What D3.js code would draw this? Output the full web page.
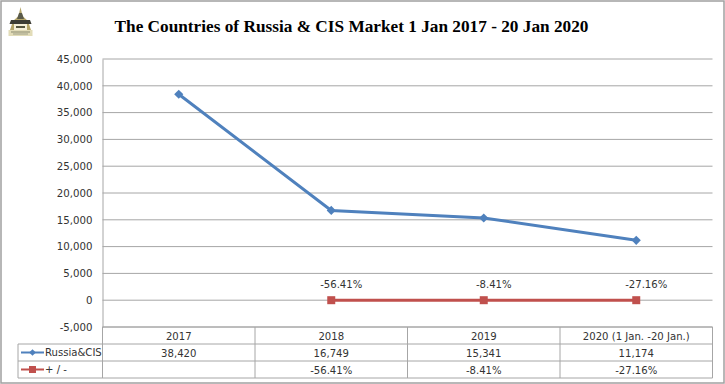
<!DOCTYPE html>
<html>
<head>
<meta charset="utf-8">
<script src="https://cdnjs.cloudflare.com/ajax/libs/d3/7.8.5/d3.min.js"></script>
<style>
html, body { margin: 0; padding: 0; background: #fff; }
svg { display: block; }
text { font-family: "DejaVu Sans", sans-serif; fill: #333; }
</style>
</head>
<body>
<div id="chart"></div>
<script>
var titleText = "The Countries of Russia & CIS Market 1 Jan 2017 - 20 Jan 2020";
var categories = ["2017", "2018", "2019", "2020 (1 Jan. -20 Jan.)"];
var russiaValues = [38420, 16749, 15341, 11174];
var changeValues = [null, 0, 0, 0];
var changeLabels = ["", "-56.41%", "-8.41%", "-27.16%"];
var russiaLabels = ["38,420", "16,749", "15,341", "11,174"];
var yTicks = [-5000, 0, 5000, 10000, 15000, 20000, 25000, 30000, 35000, 40000, 45000];
var seriesNames = ["Russia&CIS", "+ / -"];

var w = 725, h = 384;
var left = 102.5, right = 712.5, top_ = 59, bottom = 327;
var rowY = [327, 344, 361, 378];
var legendLeft = 18;
var blue = "#4f81bd", red = "#c0504d", grid = "#a6a6a6";

var svg = d3.select("#chart").append("svg").attr("width", w).attr("height", h);

svg.append("rect").attr("x", 1).attr("y", 1).attr("width", w - 2).attr("height", h - 2)
	.attr("fill", "#fff").attr("stroke", "#a0a0a0").attr("stroke-width", 1.5);

var x = d3.scaleBand().domain(categories).range([left, right]);
var y = d3.scaleLinear().domain([-5000, 45000]).range([bottom, top_]);
var cx = function(d) { return x(d) + x.bandwidth() / 2; };

svg.append("text").attr("x", 351.5).attr("y", 32).attr("text-anchor", "middle")
	.style("font-family", "'Liberation Serif', serif").style("font-weight", "bold")
	.style("font-size", "17.25px").style("fill", "#000").text(titleText);

// logo, small temple mark
var logo = svg.append("g").attr("transform", "translate(8,7)");
logo.append("path").attr("d", "M12.5,0 L14.5,9 L20,14 L23,23 L2,23 L5,14 L10.5,9 Z").attr("fill", "#b5a66a");
logo.append("path").attr("d", "M11,6 L14,6 L16,12 L9,12 Z").attr("fill", "#5a5a4a");
logo.append("path").attr("d", "M3,13 L22,13 L23.5,17 L1.5,17 Z").attr("fill", "#3c3c34");
logo.append("rect").attr("x", 6).attr("y", 17).attr("width", 13).attr("height", 6).attr("fill", "#f4efd8");
logo.append("rect").attr("x", 8).attr("y", 19).attr("width", 9).attr("height", 2).attr("fill", "#55553f");
logo.append("rect").attr("x", 0.5).attr("y", 23).attr("width", 24).attr("height", 6).attr("fill", "#e2dcb8");
logo.append("rect").attr("x", 3).attr("y", 24.5).attr("width", 19).attr("height", 1).attr("fill", "#8a8a70");
logo.append("rect").attr("x", 5).attr("y", 26.5).attr("width", 15).attr("height", 1).attr("fill", "#a0a088");

// grid and y axis
svg.append("g").selectAll("line").data(yTicks).enter().append("line")
	.attr("x1", left).attr("x2", right)
	.attr("y1", function(d) { return y(d); }).attr("y2", function(d) { return y(d); })
	.attr("stroke", grid).attr("stroke-width", 1);

var yAxis = d3.axisLeft(y).tickValues(yTicks).tickSize(0).tickPadding(10)
	.tickFormat(function(d) { return d3.format(",")(d).replace("\u2212", "-"); });
var yG = svg.append("g").attr("transform", "translate(" + left + ",0)").call(yAxis);
yG.select(".domain").attr("stroke", grid);
yG.selectAll("text").style("font-size", "10.2px").style("fill", "#333");

// data table under the plot
var table = svg.append("g").attr("stroke", grid).attr("stroke-width", 1);
rowY.forEach(function(ry, i) {
	table.append("line").attr("x1", i == 0 ? left : legendLeft).attr("x2", right).attr("y1", ry).attr("y2", ry);
});
table.append("line").attr("x1", legendLeft).attr("x2", legendLeft).attr("y1", rowY[1]).attr("y2", rowY[3]);
categories.forEach(function(c) {
	table.append("line").attr("x1", x(c)).attr("x2", x(c)).attr("y1", rowY[0]).attr("y2", rowY[3]);
});
table.append("line").attr("x1", right).attr("x2", right).attr("y1", rowY[0]).attr("y2", rowY[3]);

function cellRow(labels, ry) {
	svg.append("g").selectAll("text").data(labels).enter().append("text")
		.attr("x", function(d, i) { return cx(categories[i]); })
		.attr("y", ry + 12.5).attr("text-anchor", "middle")
		.style("font-size", "10.1px").text(function(d) { return d; });
}
cellRow(categories, rowY[0]);
cellRow(russiaLabels, rowY[1]);
cellRow(changeLabels, rowY[2]);

// series
var line = d3.line()
	.x(function(d) { return cx(d.cat); })
	.y(function(d) { return y(d.value); });

function zipSeries(values) {
	return values.map(function(v, i) { return { cat: categories[i], value: v }; })
		.filter(function(d) { return d.value != null; });
}

var blueData = zipSeries(russiaValues);
var redData = zipSeries(changeValues);
var squareMark = d3.symbol().type(d3.symbolSquare);

svg.append("path").attr("d", line(blueData)).attr("fill", "none").attr("stroke", blue).attr("stroke-width", 3);
svg.append("g").selectAll("path").data(blueData).enter().append("path")
	.attr("d", squareMark.size(42)()).attr("fill", blue)
	.attr("transform", function(d) { return "translate(" + cx(d.cat) + "," + y(d.value) + ") rotate(45)"; });

svg.append("path").attr("d", line(redData)).attr("fill", "none").attr("stroke", red).attr("stroke-width", 3);
svg.append("g").selectAll("rect").data(redData).enter().append("rect")
	.attr("x", function(d) { return cx(d.cat) - 4; }).attr("y", function(d) { return y(d.value) - 4; })
	.attr("width", 8).attr("height", 8).attr("fill", red);

svg.append("g").selectAll("text").data(redData).enter().append("text")
	.attr("x", function(d) { return cx(d.cat) + 10; }).attr("y", function(d) { return y(d.value) - 12; })
	.attr("text-anchor", "middle").style("font-size", "10.1px")
	.text(function(d) { return changeLabels[categories.indexOf(d.cat)]; });

// legend keys in the table
var keyY = [rowY[1] + 8.5, rowY[2] + 8.5];
svg.append("line").attr("x1", 21).attr("x2", 44).attr("y1", keyY[0]).attr("y2", keyY[0]).attr("stroke", blue).attr("stroke-width", 2);
svg.append("path").attr("d", squareMark.size(22)()).attr("fill", blue)
	.attr("transform", "translate(32.5," + keyY[0] + ") rotate(45)");
svg.append("line").attr("x1", 21).attr("x2", 44).attr("y1", keyY[1]).attr("y2", keyY[1]).attr("stroke", red).attr("stroke-width", 2);
svg.append("rect").attr("x", 29).attr("y", keyY[1] - 3.5).attr("width", 7).attr("height", 7).attr("fill", red);
seriesNames.forEach(function(n, i) {
	svg.append("text").attr("x", 45).attr("y", keyY[i] + 3.5).style("font-size", "10.1px").text(n);
});
</script>
</body>
</html>
